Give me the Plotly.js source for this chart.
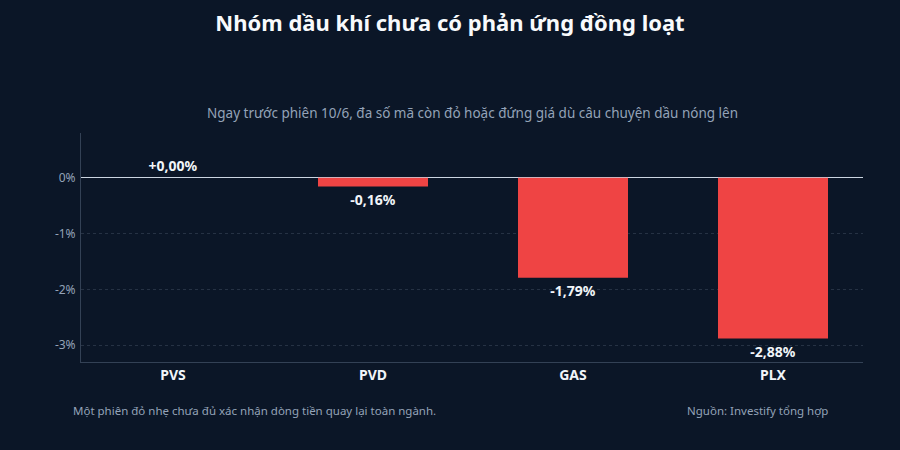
<!doctype html>
<html>
<head>
  <meta charset="utf-8">
  <title>Nhóm dầu khí</title>
  <script src="https://cdn.plot.ly/plotly-3.0.1.min.js"></script>
  <style>
    body { margin: 0; background: #0b1627; }
    #chart { width: 900px; height: 450px; }
  </style>
</head>
<body>
  <div id="chart"></div>
  <script>
    // ma co phieu va bien dong gia (%)
    var tickers = ['PVS', 'PVD', 'GAS', 'PLX'];
    var changes = [0.00, -0.16, -1.79, -2.88];
    var yTicks = [0, -1, -2, -3];
    var yTickLabels = ['0%', '-1%', '-2%', '-3%'];

    // nhan tren cot: dau +, dau phay thap phan
    var labels = changes.map(function (v) {
      return (v >= 0 ? '+' : '') + v.toFixed(2).replace('.', ',') + '%';
    });

    var trace = {
      type: 'bar',
      x: tickers,
      y: changes,
      width: 0.55,
      marker: { color: '#ef4444' },
      text: labels,
      textposition: 'outside',
      cliponaxis: false,
      textfont: { family: 'Noto Sans', size: 14, color: '#f1f5f9', weight: 'bold' },
      hoverinfo: 'skip'
    };

    var layout = {
      width: 900,
      height: 450,
      paper_bgcolor: '#0b1627',
      plot_bgcolor: '#0b1627',
      font: { family: 'Noto Sans', color: '#94a3b8' },
      margin: { l: 81, r: 37, t: 133, b: 88 },
      showlegend: false,
      title: {
        text: '<b>Nhóm dầu khí chưa có phản ứng đồng loạt</b>',
        x: 0.5, xref: 'container', y: 0.948, yref: 'container', yanchor: 'middle',
        font: { family: 'Noto Sans', size: 22, color: '#f8fafc' }
      },
      xaxis: {
        range: [-0.46, 3.45],
        showgrid: false,
        showline: true,
        linecolor: '#334155',
        linewidth: 1,
        ticks: '',
        tickfont: { family: 'Noto Sans', size: 14, color: '#f1f5f9', weight: 'bold' },
        fixedrange: true
      },
      yaxis: {
        range: [-3.3, 0.8],
        tickvals: yTicks,
        ticktext: yTickLabels,
        showgrid: true,
        gridcolor: 'rgba(148,163,184,0.2)',
        griddash: 'dot',
        gridwidth: 1,
        zeroline: true,
        zerolinecolor: '#cbd5e1',
        zerolinewidth: 1.5,
        showline: true,
        linecolor: '#334155',
        linewidth: 1,
        ticks: 'outside',
        ticklen: 2,
        tickcolor: 'rgba(0,0,0,0)',
        tickfont: { family: 'Noto Sans', size: 12, color: '#94a3b8' },
        fixedrange: true
      },
      annotations: [
        {
          text: 'Ngay trước phiên 10/6, đa số mã còn đỏ hoặc đứng giá dù câu chuyện dầu nóng lên',
          xref: 'paper', yref: 'paper', x: 0.5, y: 1.0, yshift: 20,
          xanchor: 'center', yanchor: 'middle', showarrow: false,
          font: { family: 'Noto Sans', size: 13.5, color: '#94a3b8' }
        },
        {
          text: 'Một phiên đỏ nhẹ chưa đủ xác nhận dòng tiền quay lại toàn ngành.',
          xref: 'paper', yref: 'paper', x: 0, y: 0, xshift: -10, yshift: -48,
          xanchor: 'left', yanchor: 'middle', showarrow: false,
          font: { family: 'Noto Sans', size: 11.5, color: '#94a3b8' }
        },
        {
          text: 'Nguồn: Investify tổng hợp',
          xref: 'paper', yref: 'paper', x: 1, y: 0, xshift: -33, yshift: -48,
          xanchor: 'right', yanchor: 'middle', showarrow: false,
          font: { family: 'Noto Sans', size: 11.5, color: '#94a3b8' }
        }
      ]
    };

    Plotly.newPlot('chart', [trace], layout, { displayModeBar: false, staticPlot: true });
  </script>
</body>
</html>
